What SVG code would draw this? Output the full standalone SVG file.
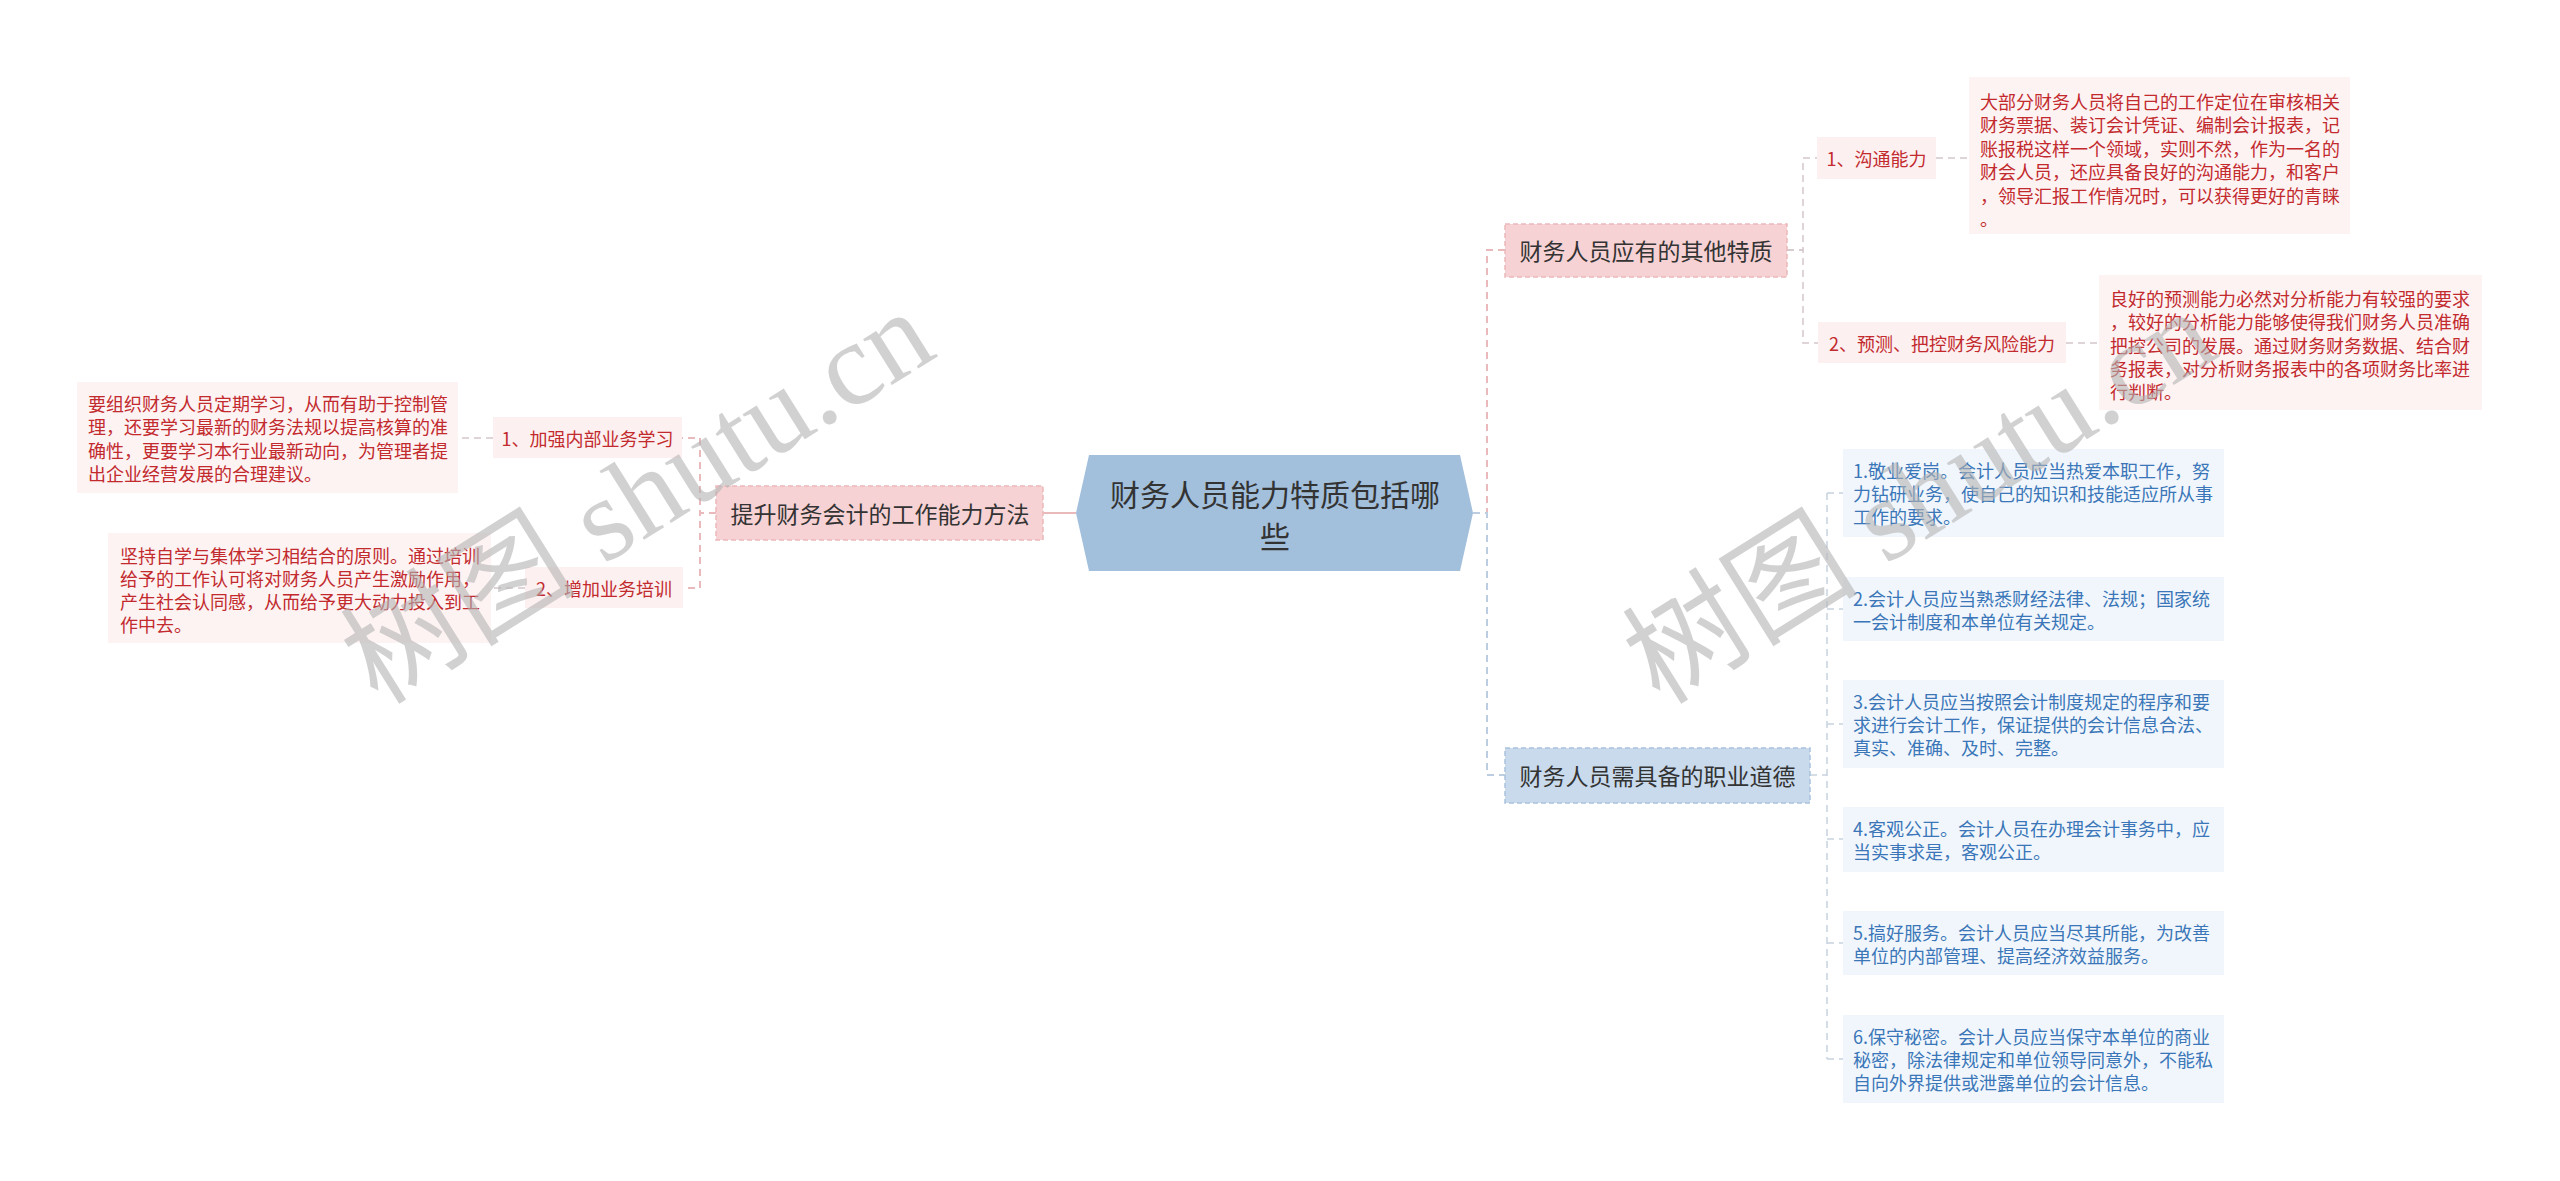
<svg xmlns="http://www.w3.org/2000/svg" width="2560" height="1181" viewBox="0 0 2560 1181">
<style>
text{font-family:"Noto Sans CJK SC","Noto Sans",sans-serif;dominant-baseline:central}
.root{font-size:30px;fill:#333;text-anchor:middle}
.main{font-size:23px;fill:#333;text-anchor:middle}
.sub{font-size:18px;fill:#c22a2e;text-anchor:middle}
.rt{font-size:18px;fill:#c22a2e}
.bt{font-size:18px;fill:#3a76b8}
.pnode{fill:#f6d2d4;stroke:#ebb8bb;stroke-width:1.5;stroke-dasharray:5 3}
.bnode{fill:#c9daec;stroke:#a9c2dd;stroke-width:1.5;stroke-dasharray:5 3}
.psub{fill:#fdf0f0}
.rbox{fill:#fdf3f3}
.bbox{fill:#f1f6fc}
.cp{fill:none;stroke:#e9b9bc;stroke-width:2;stroke-dasharray:7 5}
.cb{fill:none;stroke:#bccde2;stroke-width:2;stroke-dasharray:7 5}
.cg{fill:none;stroke:#d5c8ca;stroke-width:1.5;stroke-dasharray:7 5}
.cgb{fill:none;stroke:#c8d3e0;stroke-width:1.5;stroke-dasharray:7 5}
.wm{font-family:"Liberation Serif","Noto Sans CJK SC",serif;font-size:118px;fill:#b4b4b4;opacity:0.6;dominant-baseline:alphabetic}
</style>
<rect width="2560" height="1181" fill="#ffffff"/>
<g id="connectors">
<path class="cp" d="M1043,513 H1076" style="stroke-dasharray:none"/>
<path class="cp" d="M716,513 H700 V438 H682"/>
<path class="cp" d="M716,513 H700 V588 H683"/>
<path class="cg" d="M493,438 H458"/>
<path class="cg" d="M525,588 H491"/>
<path class="cp" d="M1473,513 H1487 V250 H1505"/>
<path class="cb" d="M1473,513 H1487 V775 H1505"/>
<path class="cg" d="M1787,250 H1803 V158 H1817"/>
<path class="cg" d="M1787,250 H1803 V343 H1818"/>
<path class="cg" d="M1936,158 H1969"/>
<path class="cg" d="M2066,343 H2099"/>
<path class="cgb" d="M1810,775 H1827"/>
<path class="cgb" d="M1827,493 V1059"/>
<path class="cgb" d="M1827,493 H1843 M1827,609 H1843 M1827,724 H1843 M1827,839 H1843 M1827,943 H1843 M1827,1059 H1843"/>
</g>
<g id="root">
<polygon points="1076,513 1089,455 1460,455 1473,513 1460,571 1089,571" fill="#a2bfdc"/>
<text class="root" x="1275" y="493">财务人员能力特质包括哪</text>
<text class="root" x="1275" y="535">些</text>
</g>
<g id="n-left">
<rect class="pnode" x="716" y="486" width="327" height="54"/>
<text class="main" x="880" y="513">提升财务会计的工作能力方法</text>
</g>
<g id="n-left-1">
<rect class="psub" x="493" y="417" width="189" height="41"/>
<text class="sub" x="587.5" y="438">1、加强内部业务学习</text>
</g>
<g id="n-left-1-t">
<rect class="rbox" x="77" y="382" width="381" height="111"/>
<text class="rt" x="88" y="403">要组织财务人员定期学习，从而有助于控制管</text>
<text class="rt" x="88" y="426">理，还要学习最新的财务法规以提高核算的准</text>
<text class="rt" x="88" y="450">确性，更要学习本行业最新动向，为管理者提</text>
<text class="rt" x="88" y="473">出企业经营发展的合理建议。</text>
</g>
<g id="n-left-2">
<rect class="psub" x="525" y="567" width="158" height="41"/>
<text class="sub" x="604" y="588">2、增加业务培训</text>
</g>
<g id="n-left-2-t">
<rect class="rbox" x="108" y="533" width="383" height="110"/>
<text class="rt" x="120" y="555">坚持自学与集体学习相结合的原则。通过培训</text>
<text class="rt" x="120" y="578">给予的工作认可将对财务人员产生激励作用，</text>
<text class="rt" x="120" y="601">产生社会认同感，从而给予更大动力投入到工</text>
<text class="rt" x="120" y="624">作中去。</text>
</g>
<g id="n-right-1">
<rect class="pnode" x="1505" y="224" width="282" height="53"/>
<text class="main" x="1646" y="250">财务人员应有的其他特质</text>
</g>
<g id="n-right-1-1">
<rect class="psub" x="1817" y="137" width="119" height="42"/>
<text class="sub" x="1876.5" y="158">1、沟通能力</text>
</g>
<g id="n-right-1-1-t">
<rect class="rbox" x="1969" y="77" width="381" height="157"/>
<text class="rt" x="1980" y="101">大部分财务人员将自己的工作定位在审核相关</text>
<text class="rt" x="1980" y="124">财务票据、装订会计凭证、编制会计报表，记</text>
<text class="rt" x="1980" y="148">账报税这样一个领域，实则不然，作为一名的</text>
<text class="rt" x="1980" y="171">财会人员，还应具备良好的沟通能力，和客户</text>
<text class="rt" x="1980" y="195">，领导汇报工作情况时，可以获得更好的青睐</text>
<text class="rt" x="1980" y="218">。</text>
</g>
<g id="n-right-1-2">
<rect class="psub" x="1818" y="322" width="248" height="41"/>
<text class="sub" x="1942" y="343">2、预测、把控财务风险能力</text>
</g>
<g id="n-right-1-2-t">
<rect class="rbox" x="2099" y="275" width="383" height="135"/>
<text class="rt" x="2110" y="298">良好的预测能力必然对分析能力有较强的要求</text>
<text class="rt" x="2110" y="321">，较好的分析能力能够使得我们财务人员准确</text>
<text class="rt" x="2110" y="345">把控公司的发展。通过财务财务数据、结合财</text>
<text class="rt" x="2110" y="368">务报表，对分析财务报表中的各项财务比率进</text>
<text class="rt" x="2110" y="391">行判断。</text>
</g>
<g id="n-right-2">
<rect class="bnode" x="1505" y="748" width="305" height="55"/>
<text class="main" x="1657.5" y="775">财务人员需具备的职业道德</text>
</g>
<g id="n-right-2-1">
<rect class="bbox" x="1843" y="449" width="381" height="88"/>
<text class="bt" x="1853" y="470">1.敬业爱岗。会计人员应当热爱本职工作，努</text>
<text class="bt" x="1853" y="493">力钻研业务，使自己的知识和技能适应所从事</text>
<text class="bt" x="1853" y="516">工作的要求。</text>
</g>
<g id="n-right-2-2">
<rect class="bbox" x="1843" y="577" width="381" height="64"/>
<text class="bt" x="1853" y="597.5">2.会计人员应当熟悉财经法律、法规；国家统</text>
<text class="bt" x="1853" y="620.5">一会计制度和本单位有关规定。</text>
</g>
<g id="n-right-2-3">
<rect class="bbox" x="1843" y="680" width="381" height="88"/>
<text class="bt" x="1853" y="701">3.会计人员应当按照会计制度规定的程序和要</text>
<text class="bt" x="1853" y="724">求进行会计工作，保证提供的会计信息合法、</text>
<text class="bt" x="1853" y="747">真实、准确、及时、完整。</text>
</g>
<g id="n-right-2-4">
<rect class="bbox" x="1843" y="807" width="381" height="65"/>
<text class="bt" x="1853" y="828">4.客观公正。会计人员在办理会计事务中，应</text>
<text class="bt" x="1853" y="851">当实事求是，客观公正。</text>
</g>
<g id="n-right-2-5">
<rect class="bbox" x="1843" y="911" width="381" height="64"/>
<text class="bt" x="1853" y="931.5">5.搞好服务。会计人员应当尽其所能，为改善</text>
<text class="bt" x="1853" y="954.5">单位的内部管理、提高经济效益服务。</text>
</g>
<g id="n-right-2-6">
<rect class="bbox" x="1843" y="1015" width="381" height="88"/>
<text class="bt" x="1853" y="1036">6.保守秘密。会计人员应当保守本单位的商业</text>
<text class="bt" x="1853" y="1059">秘密，除法律规定和单位领导同意外，不能私</text>
<text class="bt" x="1853" y="1082">自向外界提供或泄露单位的会计信息。</text>
</g>
<g id="watermark">
<text class="wm" transform="translate(378,706) rotate(-32)">树图 shutu.cn</text>
<text class="wm" transform="translate(1660,706) rotate(-32)">树图 shutu.cn</text>
</g>
</svg>
